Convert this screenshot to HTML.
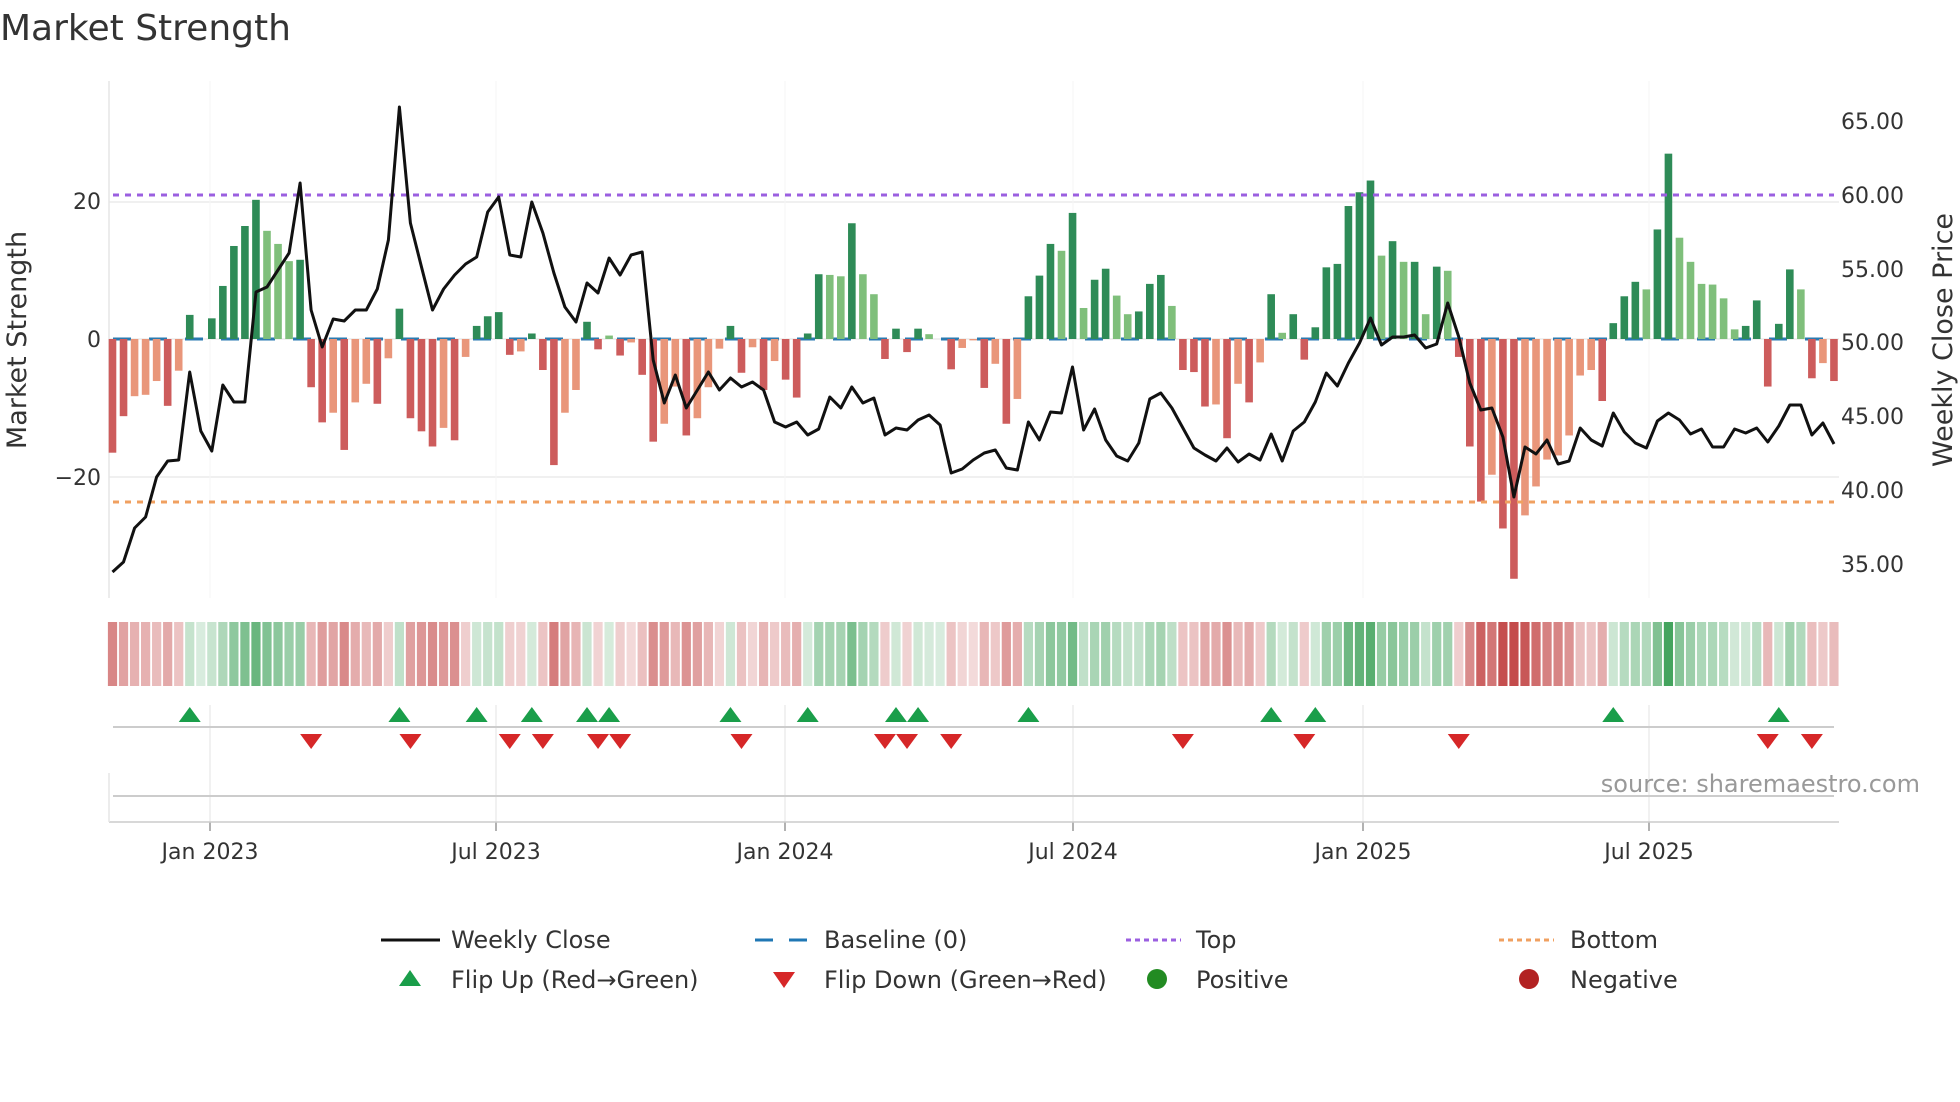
<!DOCTYPE html>
<html><head><meta charset="utf-8"><style>
html,body{margin:0;padding:0;background:#fff;}
svg{display:block;font-family:"DejaVu Sans","Liberation Sans",sans-serif;}
</style></head><body>
<svg id="s" width="1960" height="1102" viewBox="0 0 1960 1102" xmlns="http://www.w3.org/2000/svg">
<rect width="1960" height="1102" fill="#fff"/>
<text x="0" y="40" font-size="36" fill="#333">Market Strength</text>
<g id="grid"></g>
<g id="bars"></g>
<g id="lines"></g>
<text transform="translate(26,340) rotate(-90)" text-anchor="middle" font-size="27" fill="#333">Market Strength</text>
<text transform="translate(1952,340) rotate(-90)" text-anchor="middle" font-size="27" fill="#333">Weekly Close Price</text>
<g font-size="22" fill="#333" text-anchor="end">
<text x="101" y="209">20</text><text x="101" y="347">0</text><text x="101" y="485">−20</text>
</g>
<g font-size="22" fill="#333">
<text x="1841" y="129">65.00</text><text x="1841" y="203">60.00</text><text x="1841" y="277">55.00</text>
<text x="1841" y="350">50.00</text><text x="1841" y="424">45.00</text><text x="1841" y="498">40.00</text><text x="1841" y="572">35.00</text>
</g>
<g font-size="22" fill="#333" text-anchor="middle">
<text x="210" y="859">Jan 2023</text><text x="496" y="859">Jul 2023</text><text x="785" y="859">Jan 2024</text>
<text x="1073" y="859">Jul 2024</text><text x="1363" y="859">Jan 2025</text><text x="1649" y="859">Jul 2025</text>
</g>
<text x="1920" y="792" font-size="24" fill="#999" text-anchor="end">source: sharemaestro.com</text>
<g font-size="24" fill="#333">
<line x1="381" y1="940" x2="440" y2="940" stroke="#111" stroke-width="3"/>
<text x="451" y="948">Weekly Close</text>
<line x1="755" y1="940" x2="807" y2="940" stroke="#1f77b4" stroke-width="3" stroke-dasharray="18,16"/>
<text x="824" y="948">Baseline (0)</text>
<line x1="1126" y1="940" x2="1181" y2="940" stroke="#9b5fe0" stroke-width="3" stroke-dasharray="5,4"/>
<text x="1196" y="948">Top</text>
<line x1="1499" y1="940" x2="1554" y2="940" stroke="#f0a060" stroke-width="3" stroke-dasharray="5,4"/>
<text x="1570" y="948">Bottom</text>
<polygon points="399,986 421,986 410,970" fill="#1a9e4a"/>
<text x="451" y="988">Flip Up (Red→Green)</text>
<polygon points="773,972 795,972 784,988" fill="#d62728"/>
<text x="824" y="988">Flip Down (Green→Red)</text>
<circle cx="1157" cy="979" r="10" fill="#228b22"/>
<text x="1196" y="988">Positive</text>
<circle cx="1529" cy="979" r="10" fill="#b22222"/>
<text x="1570" y="988">Negative</text>
</g>
</svg>
<script>
var NS="http://www.w3.org/2000/svg";
function el(p,t,a){var e=document.createElementNS(NS,t);for(var k in a)e.setAttribute(k,a[k]);document.getElementById(p).appendChild(e);return e;}
var v=[-16.5,-11.2,-8.3,-8.1,-6.1,-9.7,-4.6,3.5,0,3.0,7.7,13.5,16.4,20.2,15.7,13.8,11.3,11.5,-7,-12.1,-10.7,-16.1,-9.2,-6.5,-9.4,-2.8,4.4,-11.5,-13.4,-15.6,-12.9,-14.7,-2.6,1.9,3.3,3.9,-2.3,-1.8,0.8,-4.5,-18.3,-10.7,-7.4,2.5,-1.5,0.5,-2.4,-0.5,-5.2,-14.9,-12.3,-6.9,-14,-11.5,-7,-1.4,1.9,-4.9,-1.2,-7.4,-3.2,-5.9,-8.5,
0.8,9.4,9.3,9.1,16.8,9.4,6.5,-2.9,1.5,-1.9,1.5,0.7,0,-4.4,-1.3,-0.2,-7.1,-3.6,-12.3,-8.7,6.2,9.2,13.8,12.8,18.3,4.5,8.6,10.2,6.3,3.6,4.0,8.0,9.3,4.8,-4.5,-4.8,-9.8,-9.5,-14.4,-6.5,-9.2,-3.4,6.5,0.9,3.6,-3.0,1.7,10.4,
10.9,19.3,21.3,23.0,12.1,14.2,11.2,11.2,3.6,10.5,9.9,-2.6,-15.6,-23.6,-19.7,-27.5,-34.8,-25.6,-21.4,-17.5,-16.9,-14.0,-5.3,-4.5,-9.0,2.3,6.2,8.3,7.2,15.9,26.9,14.7,11.2,8.0,7.9,5.9,1.4,1.9,5.6,-6.9,2.2,10.1,7.2,-5.7,-3.5,-6.1];
var light={};"2,3,4,6,14,15,16,20,22,23,25,30,32,37,41,42,45,47,50,51,53,54,55,58,60,65,66,68,69,74,77,78,80,82,86,88,91,92,96,100,102,104,106,115,117,119,121,125,128,129,130,131,132,133,134,139,142,143,144,145,146,147,153,155".split(",").forEach(function(k){light[k]=1;});
var py=[572,562,528,517,477,461,460,372,431,451,385,402,402,292,287,270,253,183,310,347,319,321,310,310,289,240,107,223,267,310,289,275,264,257,212,197,255,257,202,233,273,307,322,283,293,258,275,255,252,360,403,375,408,390,372,390,378,387,382,390,422,427,
422,435,429,397,408,387,403,398,435,428,430,420,415,425,473,469,460,453,450,468,470,422,440,412,413,367,430,409,440,456,461,443,399,393,408,428,448,455,461,448,462,454,460,434,461,431,422,402,373,
386,363,343,318,345,337,337,335,348,344,303,337,383,410,408,437,497,447,454,440,464,461,428,440,446,413,432,443,448,421,413,420,434,429,447,447,429,433,428,442,426,405,405,435,423,444];
function X(i){return 112.5+11.035*i;}
var Z=339,S=6.89;
[202,339,477].forEach(function(y){el("grid","line",{x1:109,x2:1839,y1:y,y2:y,stroke:"#ececec","stroke-width":1.5});});
el("grid","line",{x1:109,x2:109,y1:81,y2:598,stroke:"#e6e6e6","stroke-width":1.5});
[210,496,785,1073,1363,1649].forEach(function(x){
 el("grid","line",{x1:x,x2:x,y1:81,y2:598,stroke:"#f6f6f6","stroke-width":1});
 el("grid","line",{x1:x,x2:x,y1:705,y2:822,stroke:"#ececec","stroke-width":1.5});
 el("grid","line",{x1:x,x2:x,y1:822,y2:831,stroke:"#999","stroke-width":1.5});
});
el("grid","line",{x1:109,x2:1839,y1:822,y2:822,stroke:"#ccc","stroke-width":1.5});
el("grid","line",{x1:113,x2:1834,y1:727,y2:727,stroke:"#ccc","stroke-width":2});
el("grid","line",{x1:113,x2:1834,y1:796,y2:796,stroke:"#ccc","stroke-width":2});
el("grid","line",{x1:109,x2:109,y1:773,y2:822,stroke:"#e6e6e6","stroke-width":1.5});
el("bars","line",{x1:113,x2:1834,y1:Z,y2:Z,stroke:"#2a7ab0","stroke-width":3,"stroke-dasharray":"18,18"});
for(var i=0;i<v.length;i++){
 var x=X(i),h=v[i]*S,pos=v[i]>=0,lt=light[i];
 var c=pos?(lt?"#7fbf7b":"#2e8b57"):(lt?"#e9967a":"#cd5c5c");
 if(Math.abs(h)>0.3) el("bars","rect",{x:x-3.8,width:7.6,y:pos?Z-h:Z,height:Math.abs(h),fill:c});
 var t=Math.min(Math.abs(v[i])/28,1),a=0.18+0.72*t;
 el("bars","rect",{x:x-4.6,width:9.2,y:622,height:64,fill:pos?"rgb(40,150,70)":"rgb(190,55,55)","fill-opacity":a});
}
el("lines","line",{x1:113,x2:1834,y1:195,y2:195,stroke:"#9b5fe0","stroke-width":3,"stroke-dasharray":"6,6"});
el("lines","line",{x1:113,x2:1834,y1:502,y2:502,stroke:"#f0a060","stroke-width":3,"stroke-dasharray":"6,6"});
var d="";for(var i=0;i<py.length;i++)d+=(i?"L":"M")+X(i).toFixed(1)+","+py[i];
el("lines","path",{d:d,fill:"none",stroke:"#111","stroke-width":3,"stroke-linejoin":"round"});
[7,26,33,38,43,45,56,63,71,73,83,105,109,136,151].forEach(function(i){var x=X(i);el("lines","polygon",{points:(x-11)+",722 "+(x+11)+",722 "+x+",707",fill:"#1a9e4a"});});
[18,27,36,39,44,46,57,70,72,76,97,108,122,150,154].forEach(function(i){var x=X(i);el("lines","polygon",{points:(x-11)+",734 "+(x+11)+",734 "+x+",749",fill:"#d62728"});});
</script>
</body></html>
